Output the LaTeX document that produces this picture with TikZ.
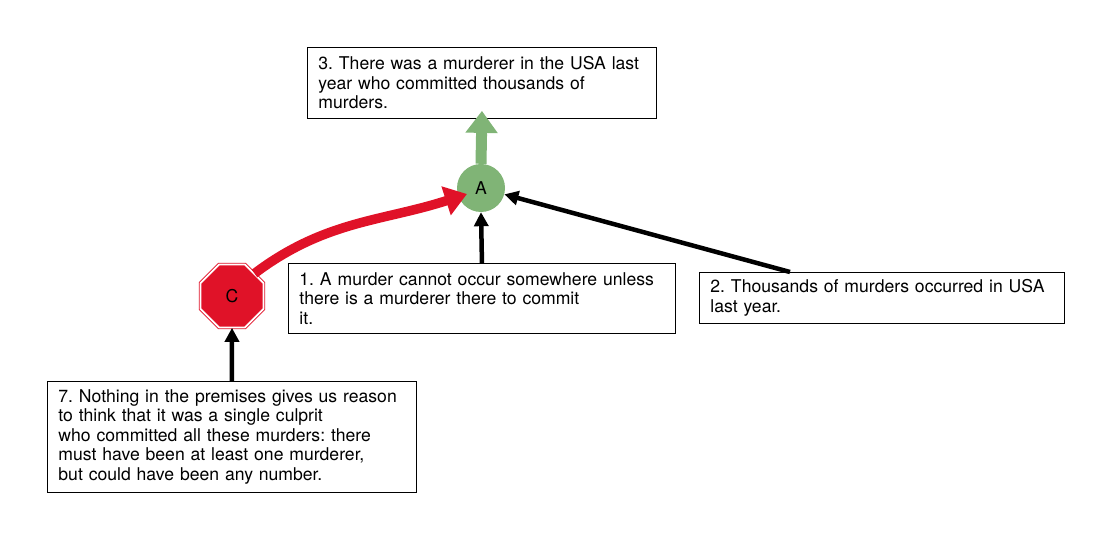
\documentclass[tikz,border=0pt]{standalone}
\usepackage{fontspec}
\setmainfont{TeX Gyre Heros}
\usetikzlibrary{arrows.meta,shapes.geometric,calc}
\definecolor{argred}{RGB}{224,18,40}
\definecolor{arggreen}{RGB}{128,180,118}
\begin{document}
\frenchspacing
\begin{tikzpicture}[x=1pt,y=1pt,
  every node/.style={font=\fontsize{17.6}{19.5}\selectfont},
  claim/.style={draw=black, line width=0.9pt, fill=white, anchor=north west, align=left, inner xsep=11pt, inner ysep=0pt},
  support/.style={line width=4.5pt, -{Triangle[length=14pt,width=14pt]}},
]
\useasboundingbox (0,0) rectangle (1113,540);
\node[claim, text width=327pt, minimum height=71pt] (B3) at (307,493) {3. There was a murderer in the USA last\\year who committed thousands of\\murders.};
\node[circle, fill=arggreen, minimum size=48pt, inner sep=0pt] (A) at (481,352) {A};
\node[claim, text width=365pt, minimum height=70pt] (B1) at (288,277) {1. A murder cannot occur somewhere unless\\there is a murderer there to commit\\it.};
\node[claim, text width=343pt, minimum height=51pt] (B2) at (699,268) {2. Thousands of murders occurred in USA\\last year.};
\node[claim, text width=347pt, minimum height=111pt] (B7) at (47,159) {7. Nothing in the premises gives us reason\\to think that it was a single culprit\\who committed all these murders: there\\must have been at least one murderer,\\but could have been any number.};
\node[regular polygon, regular polygon sides=8, fill=argred, draw=argred, double=white, double distance=1.8pt, line width=0.8pt, minimum size=68pt, inner sep=0pt] (C) at (232,244) {C};
\draw[arggreen, line width=11pt, -{Triangle[length=22pt,width=31pt]}] (A.north) -- ($(B3.south)+(0,8)$);
\draw[support] (B1.north) -- (A.south);
\coordinate (B2a) at ($(B2.north west)+(91,0)$);
\draw[support] (B2a) -- (A);
\draw[support] (B7.north) -- (C.south);
\coordinate (Ared) at ($(A.center)+(-14,-6)$);
\draw[argred, line width=9.5pt, -{Triangle[length=22pt,width=29pt]}] (C.north east) to[out=37, in=198] (Ared);
\end{tikzpicture}
\end{document}
